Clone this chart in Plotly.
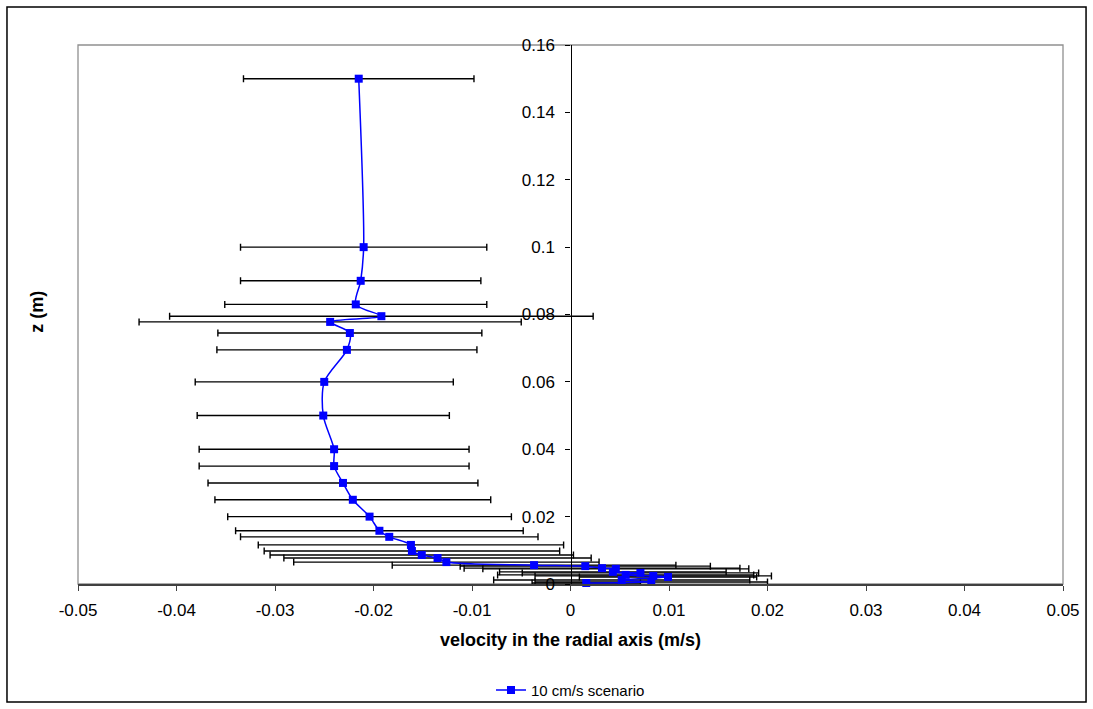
import plotly.graph_objects as go

# ---- data ----
z_m = [0.150, 0.100, 0.090, 0.083, 0.0795, 0.0778, 0.0745, 0.0695, 0.060, 0.050,
       0.040, 0.035, 0.030, 0.025, 0.020, 0.0158, 0.0140, 0.0116, 0.0098, 0.0086,
       0.0077, 0.0065, 0.0056, 0.0053, 0.0047, 0.0045, 0.0036, 0.0033, 0.0027,
       0.0024, 0.0021, 0.0012, 0.0006, 0.0003]
velocity = [-0.0215, -0.0210, -0.0213, -0.0218, -0.0192, -0.0244, -0.0224, -0.0227, -0.0250, -0.0251,
            -0.0240, -0.0240, -0.0231, -0.0221, -0.0204, -0.0194, -0.0184, -0.0162, -0.0161, -0.0151,
            -0.0135, -0.0126, -0.0037, 0.0015, 0.0032, 0.0046, 0.0043, 0.0071, 0.0056,
            0.0084, 0.0099, 0.0052, 0.0082, 0.0016]
velocity_err = [0.0117, 0.0125, 0.0122, 0.0133, 0.0215, 0.0194, 0.0134, 0.0132, 0.0131, 0.0128,
                0.0137, 0.0137, 0.0137, 0.0140, 0.0144, 0.0146, 0.0151, 0.0155, 0.0150, 0.0154,
                0.0156, 0.0155, 0.0144, 0.0127, 0.0140, 0.0135, 0.0115, 0.0120, 0.0130,
                0.0120, 0.0090, 0.0130, 0.0118, 0.0055]

series_name = "10 cm/s scenario"
x_tickvals = [-0.05, -0.04, -0.03, -0.02, -0.01, 0, 0.01, 0.02, 0.03, 0.04, 0.05]
x_ticktext = ["-0.05", "-0.04", "-0.03", "-0.02", "-0.01", "0", "0.01", "0.02", "0.03", "0.04", "0.05"]
y_tickvals = [0, 0.02, 0.04, 0.06, 0.08, 0.10, 0.12, 0.14, 0.16]
y_ticktext = ["0", "0.02", "0.04", "0.06", "0.08", "0.1", "0.12", "0.14", "0.16"]
x_title = "velocity in the radial axis (m/s)"
y_title = "z (m)"

FONT = "Liberation Sans, Arial, sans-serif"

fig = go.Figure()
fig.add_trace(go.Scatter(
    x=velocity, y=z_m, name=series_name, mode="lines+markers",
    line=dict(color="#0000FF", width=1.5, shape="spline", smoothing=0.8),
    marker=dict(symbol="square", size=8, color="#0000FF"),
    error_x=dict(type="data", array=velocity_err, visible=True,
                 color="#000000", thickness=1.4, width=3.5),
    cliponaxis=False,
))

fig.update_layout(
    width=1093, height=709,
    margin=dict(l=78, r=30, t=45, b=125, autoexpand=False),
    paper_bgcolor="white", plot_bgcolor="white",
    font=dict(family=FONT, size=17, color="#000000"),
    showlegend=True,
    legend=dict(orientation="h", x=0.5, xanchor="center", y=-0.197, yanchor="middle",
                font=dict(size=15), bgcolor="rgba(0,0,0,0)"),
    xaxis=dict(range=[-0.05, 0.05], tickvals=x_tickvals, ticktext=x_ticktext,
               showgrid=False, zeroline=False, showline=True, linecolor="#404040", linewidth=1.5,
               ticks="outside", ticklen=5, tickcolor="#404040", tickfont=dict(size=17),
               ticklabelstandoff=5),
    yaxis=dict(range=[0, 0.16], tickvals=y_tickvals, ticktext=y_ticktext,
               anchor="free", position=0.5, side="left",
               showgrid=False, zeroline=False, showline=True, linecolor="#000000", linewidth=1.3,
               ticks="outside", ticklen=5, tickcolor="#000000", tickfont=dict(size=17),
               ticklabelstandoff=7),
    shapes=[
        dict(type="rect", xref="paper", yref="paper", x0=0, x1=1, y0=0, y1=1,
             line=dict(color="#909090", width=1.3), layer="below"),
        dict(type="rect", xref="paper", yref="paper", x0=-0.0721, x1=1.0234, y0=-0.2189, y1=1.0705,
             line=dict(color="#000000", width=1.5)),
    ],
    annotations=[
        dict(text="<b>" + x_title + "</b>", xref="paper", yref="paper", x=0.5, y=-0.104,
             showarrow=False, font=dict(size=18), xanchor="center", yanchor="middle"),
        dict(text="<b>" + y_title + "</b>", xref="paper", yref="paper", x=-0.0416, y=0.505,
             showarrow=False, font=dict(size=18), textangle=-90, xanchor="center", yanchor="middle"),
    ],
)

fig.write_html("out.html")
